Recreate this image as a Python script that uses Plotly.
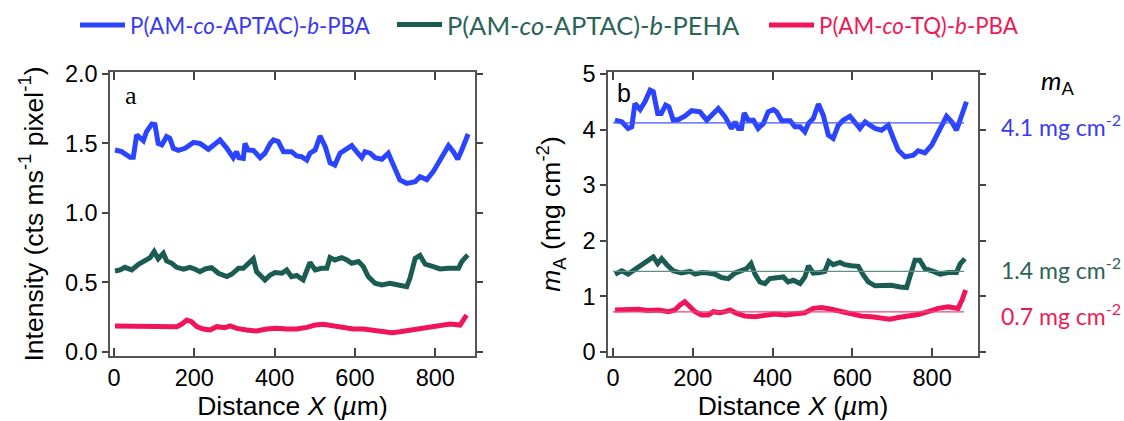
import plotly.graph_objects as go

# ---------------- data: panel a (Intensity) ----------------
a_blue_x = [2.5, 19, 40, 48, 56.5, 67, 73, 81, 94, 102, 110, 119, 131, 139, 148, 160, 177, 198, 214, 235,
            247, 264, 281, 297, 305, 311, 322, 326, 334, 347, 364, 376, 389, 397, 409, 422, 442, 455, 467, 480,
            488, 501, 513, 526, 538, 550, 563, 575, 592, 604, 617, 625, 638, 650, 667, 683, 700, 712, 729, 750,
            762, 779, 795, 812, 833, 845, 856, 866, 882]
a_blue_y = [1.453, 1.441, 1.40, 1.40, 1.561, 1.537, 1.52, 1.585, 1.64, 1.635, 1.50, 1.49, 1.549, 1.537, 1.465,
            1.45, 1.465, 1.508, 1.50, 1.458, 1.49, 1.525, 1.465, 1.398, 1.441, 1.398, 1.393, 1.50, 1.453, 1.45,
            1.398, 1.43, 1.50, 1.525, 1.513, 1.441, 1.441, 1.41, 1.405, 1.38, 1.43, 1.453, 1.554, 1.477, 1.362,
            1.345, 1.43, 1.45, 1.484, 1.441, 1.398, 1.441, 1.43, 1.398, 1.386, 1.43, 1.32, 1.237, 1.213, 1.225,
            1.261, 1.24, 1.297, 1.386, 1.484, 1.441, 1.386, 1.453, 1.568]

a_green_x = [2.5, 15, 27, 44, 61, 77, 90, 100, 110, 123, 131, 144, 156, 173, 189, 202, 214, 227, 243, 260,
             281, 293, 310, 322, 334, 347, 355, 368, 376, 389, 401, 418, 430, 442, 455, 471, 480, 488, 501, 517,
             530, 538, 550, 567, 580, 592, 609, 621, 633, 650, 667, 687, 708, 729, 737, 750, 762, 775, 795, 812,
             833, 858, 866, 873, 881]
a_green_y = [0.583, 0.59, 0.609, 0.59, 0.631, 0.662, 0.679, 0.722, 0.67, 0.71, 0.655, 0.638, 0.609, 0.595,
             0.609, 0.595, 0.578, 0.597, 0.607, 0.566, 0.542, 0.559, 0.602, 0.602, 0.638, 0.67, 0.578, 0.542,
             0.518, 0.554, 0.571, 0.566, 0.59, 0.542, 0.55, 0.518, 0.578, 0.645, 0.59, 0.602, 0.602, 0.679,
             0.662, 0.679, 0.662, 0.638, 0.65, 0.614, 0.542, 0.494, 0.482, 0.494, 0.482, 0.47, 0.53, 0.674,
             0.694, 0.631, 0.614, 0.597, 0.602, 0.602, 0.65, 0.679, 0.698]

a_red_x = [2.5, 48, 90, 131, 156, 168, 181, 193, 206, 222, 239, 256, 276, 289, 306, 330, 355, 380, 405, 430,
           455, 480, 501, 521, 546, 571, 596, 621, 646, 671, 692, 712, 737, 762, 787, 812, 837, 862, 870, 878]
a_red_y = [0.187, 0.187, 0.182, 0.187, 0.182, 0.199, 0.23, 0.218, 0.182, 0.165, 0.158, 0.182, 0.175, 0.187,
           0.17, 0.158, 0.151, 0.165, 0.17, 0.165, 0.165, 0.177, 0.194, 0.199, 0.189, 0.175, 0.165, 0.165,
           0.153, 0.146, 0.139, 0.146, 0.158, 0.17, 0.175, 0.194, 0.201, 0.194, 0.235, 0.266]

# ---------------- data: panel b (m_A) ----------------
b_blue_x = [5, 22, 38, 47, 55, 68, 80, 93, 101, 112, 121, 132, 140, 151, 164, 180, 197, 218, 235, 247, 264,
            281, 297, 306, 314, 322, 329, 339, 352, 364, 377, 389, 402, 410, 423, 444, 456, 469, 481, 490, 502,
            515, 527, 540, 552, 565, 577, 594, 606, 619, 632, 644, 657, 673, 690, 703, 715, 732, 753, 765, 782,
            799, 815, 836, 849, 861, 870, 886]
b_blue_y = [4.17, 4.14, 4.02, 4.05, 4.47, 4.36, 4.50, 4.71, 4.68, 4.29, 4.29, 4.44, 4.41, 4.17, 4.18, 4.24,
            4.34, 4.32, 4.17, 4.26, 4.38, 4.23, 4.02, 4.14, 4.02, 4.02, 4.30, 4.17, 4.17, 4.02, 4.11, 4.32,
            4.36, 4.32, 4.16, 4.16, 4.05, 4.05, 3.96, 4.11, 4.20, 4.46, 4.26, 3.90, 3.84, 4.08, 4.17, 4.24,
            4.14, 4.02, 4.14, 4.08, 4.02, 3.99, 4.08, 3.84, 3.63, 3.51, 3.54, 3.62, 3.58, 3.72, 3.96, 4.24,
            4.14, 3.99, 4.17, 4.50]

b_green_x = [5, 22, 38, 55, 72, 88, 101, 112, 122, 135, 151, 172, 193, 206, 222, 239, 256, 272, 289, 306,
             323, 335, 346, 356, 368, 381, 393, 410, 427, 439, 452, 469, 481, 490, 502, 519, 531, 541, 552,
             569, 581, 598, 615, 627, 640, 657, 677, 698, 719, 736, 744, 757, 769, 782, 803, 820, 840, 861,
             870, 882]
b_green_y = [1.40, 1.46, 1.40, 1.48, 1.57, 1.64, 1.71, 1.59, 1.68, 1.57, 1.46, 1.42, 1.45, 1.40, 1.43, 1.42,
             1.40, 1.34, 1.32, 1.42, 1.46, 1.50, 1.59, 1.40, 1.26, 1.23, 1.32, 1.34, 1.35, 1.26, 1.29, 1.23,
             1.35, 1.55, 1.42, 1.43, 1.45, 1.63, 1.57, 1.61, 1.57, 1.55, 1.54, 1.39, 1.26, 1.19, 1.20, 1.20,
             1.17, 1.16, 1.35, 1.65, 1.65, 1.50, 1.45, 1.40, 1.43, 1.43, 1.58, 1.68]

b_red_x = [5, 30, 64, 88, 114, 139, 155, 168, 180, 193, 206, 222, 239, 251, 268, 281, 293, 310, 331, 356,
           381, 406, 431, 456, 481, 502, 523, 548, 573, 598, 623, 648, 673, 694, 715, 740, 765, 790, 815, 840,
           865, 875, 884]
b_red_y = [0.755, 0.755, 0.77, 0.745, 0.755, 0.725, 0.755, 0.845, 0.905, 0.815, 0.725, 0.665, 0.665, 0.725,
           0.705, 0.725, 0.755, 0.695, 0.645, 0.635, 0.665, 0.685, 0.665, 0.675, 0.705, 0.785, 0.80, 0.77,
           0.725, 0.685, 0.645, 0.635, 0.605, 0.59, 0.62, 0.645, 0.675, 0.725, 0.785, 0.815, 0.785, 0.935,
           1.115]

mean_x = [0, 880]
mean_values = [4.12, 1.45, 0.72]
mean_labels = ["4.1 mg cm<sup>-2</sup>", "1.4 mg cm<sup>-2</sup>", "0.7 mg cm<sup>-2</sup>"]
series_names = ["P(AM-<i>co</i>-APTAC)-<i>b</i>-PBA", "P(AM-<i>co</i>-APTAC)-<i>b</i>-PEHA",
                "P(AM-<i>co</i>-TQ)-<i>b</i>-PBA"]

BLUE = "#2B44FF"
GREEN = "#1B5C52"
RED = "#F0145A"
colors = [BLUE, GREEN, RED]
mean_colors = ["#4455FF", "#5E8F88", "#F2457A"]
text_colors = ["#3A3AF0", "#2A6358", "#EE1A55"]

AX_FONT = "Liberation Sans, Arial, sans-serif"
LEG_FONT = "Lato, Open Sans, sans-serif"

# figure geometry (pixels)
W, H = 1124, 421
ML, MR, MT, MB = 110, 146, 72, 65
PW, PH = W - ML - MR, H - MT - MB


def px(xp):
    return (xp - ML) / PW


def py(yp):
    return (H - MB - yp) / PH


fig = go.Figure()

a_sets = [(a_blue_x, a_blue_y), (a_green_x, a_green_y), (a_red_x, a_red_y)]
b_sets = [(b_blue_x, b_blue_y), (b_green_x, b_green_y), (b_red_x, b_red_y)]
legend_ids = ["legend", "legend2", "legend3"]

for i, (xs, ys) in enumerate(a_sets):
    fig.add_trace(go.Scatter(
        x=xs, y=ys, mode="lines", xaxis="x", yaxis="y",
        line=dict(color=colors[i], width=5),
        name=series_names[i], legend=legend_ids[i], showlegend=True))

for i, (xs, ys) in enumerate(b_sets):
    fig.add_trace(go.Scatter(
        x=xs, y=ys, mode="lines", xaxis="x2", yaxis="y2",
        line=dict(color=colors[i], width=5), showlegend=False))
    fig.add_trace(go.Scatter(
        x=mean_x, y=[mean_values[i]] * 2, mode="lines", xaxis="x2", yaxis="y2",
        line=dict(color=mean_colors[i], width=1.3), showlegend=False))

axis_common = dict(showline=True, linecolor="#555555", linewidth=1.5, mirror="ticks",
                   tickcolor="#444444", tickwidth=1.5, showgrid=False, zeroline=False,
                   automargin=False,
                   tickfont=dict(family=AX_FONT, size=23.5, color="black"))

TITLE_SIZE = 26.5
xtitle = dict(text="Distance <i>X</i> (<i>µ</i>m)", font=dict(family=AX_FONT, size=TITLE_SIZE, color="black"),
              standoff=9)

fig.update_layout(
    template="none",
    width=W, height=H, margin=dict(l=ML, r=MR, t=MT, b=MB, autoexpand=False),
    paper_bgcolor="white", plot_bgcolor="white",
    font=dict(family=AX_FONT, color="black"),
    xaxis=dict(domain=[0, px(475)], range=[-10, 899], tickvals=[0, 200, 400, 600, 800],
               ticks="inside", ticklen=8, anchor="y", title=xtitle, **axis_common),
    yaxis=dict(domain=[0, 1], range=[-0.029, 2.014], tickvals=[0, 0.5, 1.0, 1.5, 2.0], tickformat=".1f",
               ticks="outside", ticklen=6, anchor="x",
               title=dict(text="Intensity (cts ms<sup>-1</sup> pixel<sup>-1</sup>)",
                          font=dict(family=AX_FONT, size=TITLE_SIZE, color="black"), standoff=14),
               **axis_common),
    xaxis2=dict(domain=[px(608), 1], range=[-12.5, 915], tickvals=[0, 200, 400, 600, 800],
                ticks="inside", ticklen=8, anchor="y2", title=xtitle, **axis_common),
    yaxis2=dict(domain=[0, 1], range=[-0.072, 5.036], tickvals=[0, 1, 2, 3, 4, 5],
                ticks="outside", ticklen=6, anchor="x2",
                title=dict(text="<i>m</i><sub>A</sub> (mg cm<sup>-2</sup>)",
                           font=dict(family=AX_FONT, size=TITLE_SIZE, color="black"), standoff=14),
                **axis_common),
    showlegend=True,
)

leg_x = [75, 392, 764]
leg_size = [22.3, 25.5, 22.3]
for i, lid in enumerate(legend_ids):
    fig.update_layout({lid: dict(x=px(leg_x[i]), y=py(25), xanchor="left", yanchor="middle",
                                 orientation="h", itemwidth=45, bgcolor="rgba(0,0,0,0)", borderwidth=0,
                                 font=dict(family=LEG_FONT, size=leg_size[i], color=text_colors[i]))})

annotations = [
    dict(x=px(131), y=py(95), text="a", font=dict(family="Liberation Serif, serif", size=26, color="black")),
    dict(x=px(624), y=py(93), text="b", font=dict(family=AX_FONT, size=25, color="black")),
    dict(x=px(1057), y=py(82), text="<i>m</i><sub>A</sub>", font=dict(family=LEG_FONT, size=26, color="black")),
]
label_y = [125, 268, 314]
for i in range(3):
    annotations.append(dict(x=px(999), y=py(label_y[i]), xanchor="left", text=mean_labels[i],
                            font=dict(family=LEG_FONT, size=23, color=text_colors[i])))
for a in annotations:
    a.update(xref="paper", yref="paper", showarrow=False)
    a.setdefault("xanchor", "center")
    a.setdefault("yanchor", "middle")
fig.update_layout(annotations=annotations)

fig.write_html("out.html", config={"displayModeBar": False},
               post_script="document.body.style.margin='0px';")
